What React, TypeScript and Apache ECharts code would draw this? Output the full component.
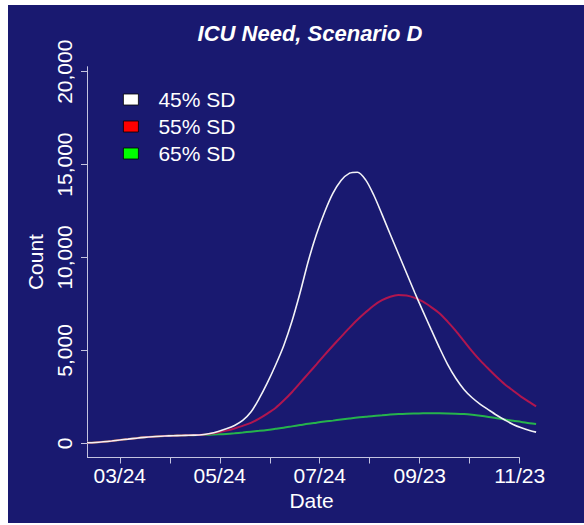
import React, { useEffect, useRef } from "react";
import * as echarts from "echarts";

// days since 03/24
const days = [-20, -15, -10, -5, 0, 5, 10, 15, 20, 25, 30, 35, 40, 45, 50, 55, 60, 65, 70, 75, 80, 85, 90, 95, 100, 105, 110, 115, 120, 125, 130, 135, 140, 145, 150, 155, 160, 165, 170, 175, 180, 185, 190, 195, 200, 205, 210, 215, 220, 225, 230, 235, 240, 245, 250, 254];
const sd45 = [30, 45, 80, 125, 178, 225, 275, 320, 355, 380, 400, 415, 428, 438, 460, 530, 640, 780, 960, 1230, 1680, 2400, 3250, 4200, 5250, 6550, 8100, 9800, 11250, 12450, 13450, 14150, 14530, 14590, 14180, 13350, 12320, 11250, 10200, 9150, 8100, 7100, 6120, 5150, 4250, 3500, 2900, 2450, 2100, 1800, 1510, 1250, 1010, 830, 690, 600];
const sd55 = [30, 45, 80, 125, 178, 225, 275, 320, 355, 380, 400, 415, 428, 438, 455, 510, 580, 680, 800, 940, 1100, 1330, 1600, 1900, 2300, 2750, 3250, 3750, 4250, 4760, 5250, 5730, 6200, 6650, 7050, 7420, 7700, 7890, 7980, 7960, 7830, 7620, 7330, 7000, 6550, 6050, 5500, 4950, 4450, 4000, 3570, 3170, 2830, 2500, 2220, 1985];
const sd65 = [30, 45, 80, 125, 178, 225, 275, 320, 355, 380, 400, 415, 428, 438, 447, 462, 480, 505, 540, 580, 625, 670, 720, 780, 840, 910, 980, 1050, 1110, 1170, 1220, 1275, 1330, 1385, 1430, 1475, 1510, 1545, 1575, 1595, 1605, 1612, 1615, 1615, 1610, 1595, 1570, 1530, 1480, 1420, 1350, 1280, 1210, 1150, 1080, 1040];

const seriesNames = ["45% SD", "55% SD", "65% SD"];
const lineColors = ["#f2f2f6", "#b0164f", "#26b34c"];
const legendColors = ["#ffffff", "#ff0000", "#00ff00"];

const xMin = -20;
const xMax = 254;
const xAxisEnd = 244;
const xTickValues = [0, 30.5, 61, 91.5, 122, 152.5, 183, 213.5, 244];
const xLabelValues = [0, 61, 122, 183, 244];
const xLabels = ["03/24", "05/24", "07/24", "09/23", "11/23"];
const yMin = -765;
const yMax = 20270;
const yTickValues = [0, 5000, 10000, 15000, 20000];

const FONT = "'Liberation Sans', Arial, sans-serif";
const AXIS_COLOR = "#c4c4e0";

export default function App() {
  const ref = useRef<HTMLDivElement>(null);
  useEffect(() => {
    if (!ref.current) return;
    const chart = echarts.init(ref.current, null, { renderer: "svg" });
    const allSeries = [sd45, sd55, sd65];
    chart.setOption({
      animation: false,
      backgroundColor: "#ffffff",
      textStyle: { fontFamily: FONT },
      graphic: [
        {
          type: "rect",
          z: -10,
          silent: true,
          shape: { x: 8, y: 5, width: 576, height: 518 },
          style: { fill: "#191970" },
        },
      ],
      title: {
        text: "ICU Need, Scenario D",
        left: 305,
        top: 17,
        textAlign: "center",
        textStyle: {
          color: "#ffffff",
          fontSize: 22,
          fontWeight: "bold",
          fontStyle: "italic",
          fontFamily: FONT,
        },
      },
      legend: {
        orient: "vertical",
        left: 118,
        top: 84,
        itemWidth: 15,
        itemHeight: 11,
        itemGap: 6,
        icon: "rect",
        data: seriesNames.map((n, i) => ({
          name: n,
          itemStyle: { color: legendColors[i], borderColor: "#000", borderWidth: 0.8 },
        })),
        textStyle: { color: "#ffffff", fontSize: 21, fontFamily: FONT, padding: [0, 0, 0, 15] },
      },
      grid: {
        left: 87,
        right: 47.9,
        top: 66.7,
        bottom: 67.5,
        containLabel: false,
        outerBoundsMode: "none",
      },
      xAxis: {
        type: "value",
        min: xMin,
        max: xMax,
        name: "Date",
        nameLocation: "middle",
        nameGap: 31,
        nameTextStyle: { color: "#ffffff", fontSize: 21, fontFamily: FONT },
        axisLine: { show: false, onZero: false },
        axisTick: { show: true, length: 6, customValues: xTickValues, lineStyle: { color: AXIS_COLOR } },
        axisLabel: {
          customValues: xLabelValues,
          color: "#ffffff",
          fontSize: 21,
          fontFamily: FONT,
          margin: 7,
          formatter: (v: number) => {
            const i = xLabelValues.findIndex((d) => Math.abs(d - v) < 0.01);
            return i >= 0 ? xLabels[i] : "";
          },
        },
        splitLine: { show: false },
      },
      yAxis: {
        type: "value",
        min: yMin,
        max: yMax,
        name: "Count",
        nameLocation: "middle",
        nameGap: 39,
        nameTextStyle: { color: "#ffffff", fontSize: 21, fontFamily: FONT },
        axisLine: { show: true, onZero: false, lineStyle: { color: AXIS_COLOR, width: 1 } },
        axisTick: { show: true, length: 6, customValues: yTickValues, lineStyle: { color: AXIS_COLOR } },
        axisLabel: {
          customValues: yTickValues,
          rotate: 90,
          color: "#ffffff",
          fontSize: 21,
          fontFamily: FONT,
          margin: 12,
          formatter: (v: number) => v.toLocaleString("en-US"),
        },
        splitLine: { show: false },
      },
      series: [2, 1, 0].map((i) => ({
        type: "line",
        name: seriesNames[i],
        data: days.map((d, k) => [d, allSeries[i][k]]),
        smooth: 0.3,
        showSymbol: false,
        color: legendColors[i],
        lineStyle: { color: lineColors[i], width: i === 0 ? 1.6 : 2 },
        z: 3 - i,
        markLine:
          i === 2
            ? {
                silent: true,
                symbol: "none",
                label: { show: false },
                lineStyle: { color: AXIS_COLOR, width: 1, type: "solid" },
                data: [[{ coord: [xMin, yMin] }, { coord: [xAxisEnd, yMin] }]],
              }
            : undefined,
      })),
    });
    return () => chart.dispose();
  }, []);
  return (
    <div
      ref={ref}
      style={{ position: "absolute", left: 0, top: 0, width: 584, height: 525 }}
    />
  );
}
